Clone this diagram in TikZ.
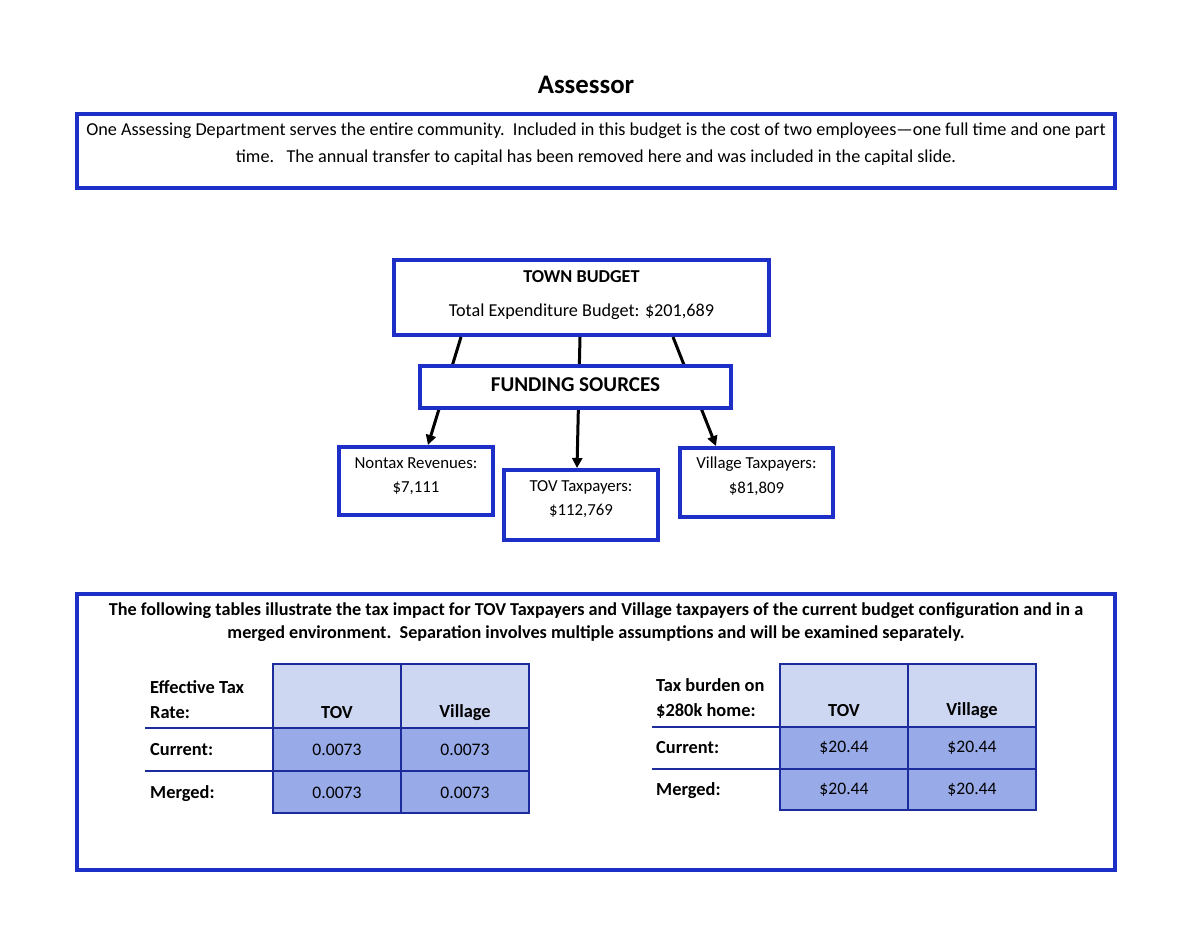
\documentclass[tikz,border=0pt]{standalone}
\usepackage{fontspec}
\setmainfont{Carlito}
\usetikzlibrary{arrows.meta,calc}
\definecolor{boxblue}{HTML}{1E2FC8}
\definecolor{navy}{HTML}{1C2C9C}
\definecolor{hdrfill}{HTML}{CDD7F2}
\definecolor{datfill}{HTML}{98AAE8}
\tikzset{
  bluebox/.style={draw=boxblue,line width=4pt,fill=white,inner sep=0pt,rectangle},
  txt/.style={inner sep=0pt,font=\fontsize{18.2}{20}\selectfont},
  btxt/.style={inner sep=0pt,font=\fontsize{18.2}{20}\selectfont\bfseries},
  stxt/.style={inner sep=0pt,font=\fontsize{16.8}{19}\selectfont},
  tbl/.style={inner sep=0pt,font=\fontsize{18.4}{20}\selectfont\bfseries},
  val/.style={inner sep=0pt,font=\fontsize{17.6}{20}\selectfont},
  conn/.style={line width=3pt,-{Triangle[length=10pt,width=10pt]}},
  tline/.style={draw=navy,line width=2pt},
  hdrcell/.style={fill=hdrfill},
  datcell/.style={fill=datfill},
}
\begin{document}
\begin{tikzpicture}[x=1pt,y=-1pt]
\useasboundingbox[fill=white] (0,0) rectangle (1200,927);
% title
\node[inner sep=0pt,font=\fontsize{26.8}{30}\selectfont\bfseries] (title) at (586,85) {Assessor};
% top box
\node[bluebox,minimum width=1038pt,minimum height=74pt] (intro) at (596,151) {};
\node[txt] (introa) at (596,131) {One Assessing Department serves the entire community.\ \ Included in this budget is the cost of two employees—one full time and one part};
\node[txt] (introb) at (596,158) {time.\ \ \ The annual transfer to capital has been removed here and was included in the capital slide.};
% budget boxes
\node[bluebox,minimum width=375pt,minimum height=75pt] (tb) at (581.5,297.5) {};
\node[btxt] (tbt) at (581.5,277) {TOWN BUDGET};
\node[txt] (tbv) at (581.5,312) {Total Expenditure Budget: \$201,689};
\node[bluebox,minimum width=154pt,minimum height=68pt] (nt) at (416,481) {};
\node[stxt] (nta) at (416,463) {Nontax Revenues:};
\node[stxt] (ntb) at (416,488) {\$7,111};
\node[bluebox,minimum width=154pt,minimum height=70pt] (tov) at (581,505) {};
\node[stxt] (tova) at (581,487) {TOV Taxpayers:};
\node[stxt] (tovb) at (581,511) {\$112,769};
\node[bluebox,minimum width=153pt,minimum height=69pt] (vil) at (756.5,482.5) {};
\node[stxt] (vila) at (756.5,464) {Village Taxpayers:};
\node[stxt] (vilb) at (756.5,489) {\$81,809};
% connectors
\draw[conn] ([xshift=-120.5pt]tb.south) -- ([xshift=12pt]nt.north);
\draw[conn] ([xshift=-1.5pt]tb.south) -- ([xshift=-4pt]tov.north);
\draw[conn] ([xshift=91.5pt]tb.south) -- ([xshift=-40.5pt]vil.north);
% funding sources on top
\node[bluebox,minimum width=311pt,minimum height=42pt] (fs) at (575.5,387) {};
\node[inner sep=0pt,font=\fontsize{21.1}{24}\selectfont\bfseries] (fst) at (575.5,385) {FUNDING SOURCES};
% bottom box
\node[bluebox,minimum width=1038pt,minimum height=276pt] (bot) at (596,732) {};
\node[btxt] (bota) at (596,611) {The following tables illustrate the tax impact for TOV Taxpayers and Village taxpayers of the current budget configuration and in a};
\node[btxt] (botb) at (596,634) {merged environment.\ \ Separation involves multiple assumptions and will be examined separately.};
% left table
\fill[hdrcell] (273,664) rectangle (529,728);
\fill[datcell] (273,728) rectangle (529,813);
\draw[tline] (273,664) rectangle (529,813);
\draw[tline] (401,664) -- (401,813);
\draw[tline] (145,728) -- (529,728);
\draw[tline] (145,771) -- (529,771);
\node[tbl,anchor=west] (l1) at (150,687) {Effective Tax};
\node[tbl,anchor=west] (l2) at (150,713) {Rate:};
\node[tbl,anchor=west] (l3) at (150,750) {Current:};
\node[tbl,anchor=west] (l4) at (150,794) {Merged:};
\node[tbl] (lh1) at (337,713) {TOV};
\node[tbl] (lh2) at (465,713) {Village};
\node[val] (lv1) at (337,750) {0.0073};
\node[val] (lv2) at (465,750) {0.0073};
\node[val] (lv3) at (337,793) {0.0073};
\node[val] (lv4) at (465,793) {0.0073};
% right table
\fill[hdrcell] (780,664) rectangle (1036,727);
\fill[datcell] (780,727) rectangle (1036,810);
\draw[tline] (780,664) rectangle (1036,810);
\draw[tline] (908,664) -- (908,810);
\draw[tline] (652,727) -- (1036,727);
\draw[tline] (652,769) -- (1036,769);
\node[tbl,anchor=west] (r1) at (656,685) {Tax burden on};
\node[tbl,anchor=west] (r2) at (656,711) {\$280k home:};
\node[tbl,anchor=west] (r3) at (656,748) {Current:};
\node[tbl,anchor=west] (r4) at (656,791) {Merged:};
\node[tbl] (rh1) at (844,711) {TOV};
\node[tbl] (rh2) at (972,711) {Village};
\node[val] (rv1) at (844,748) {\$20.44};
\node[val] (rv2) at (972,748) {\$20.44};
\node[val] (rv3) at (844,790) {\$20.44};
\node[val] (rv4) at (972,790) {\$20.44};
\end{tikzpicture}
\end{document}
